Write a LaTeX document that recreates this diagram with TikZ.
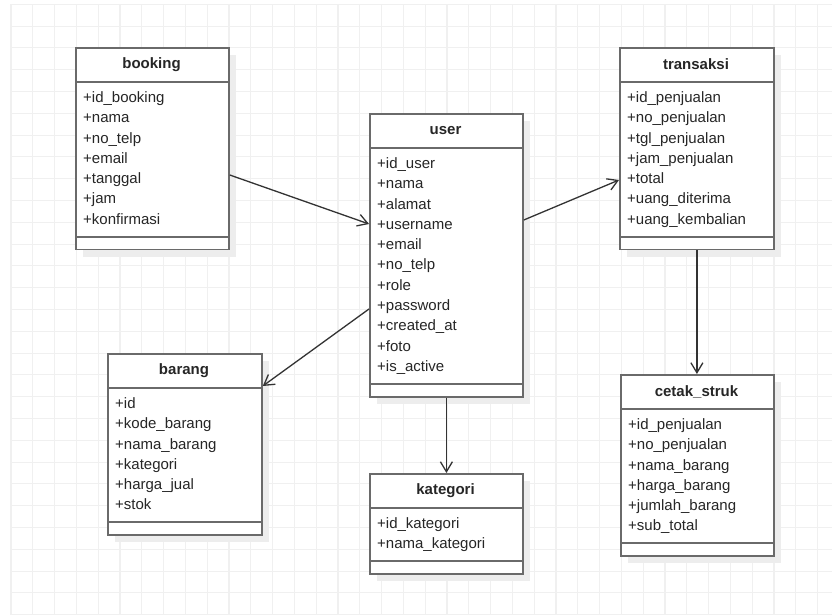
\documentclass[tikz,border=0pt]{standalone}
\usepackage{fontspec}
\setmainfont{Liberation Sans}
\usetikzlibrary{arrows.meta,calc}

\definecolor{gridc}{HTML}{F0F0F0}
\definecolor{boxline}{HTML}{6A6A6A}
\definecolor{shadowc}{HTML}{EDEDED}
\definecolor{inkc}{HTML}{262626}
\definecolor{connc}{HTML}{333333}

\tikzset{
  gridline/.style={draw=gridc, line width=1.1pt},
  classbox/.style={draw=boxline, fill=white, line width=1.8pt, inner sep=0pt},
  boxedge/.style={draw=boxline, line width=1.8pt},
  titletext/.style={font=\fontsize{15}{18}\selectfont\bfseries, text=inkc, inner sep=0pt},
  attrtext/.style={font=\fontsize{15}{18}\selectfont, text=inkc, inner sep=0pt},
  conn/.style={draw=connc, line width=1.3pt, -{Straight Barb[length=10pt,width=12pt,line width=1.3pt]}},
}

% UML class: #1 name, #2 left, #3 top, #4 width, #5 title, #6 number of attributes, #7 attributes
\newcommand\umlclass[7]{%
  \pgfmathsetmacro\clshdr{#3+35}%
  \pgfmathsetmacro\clssect{#3+35+20.3*#6+12.5}%
  \pgfmathsetmacro\clsbot{\clssect+12}%
  \pgfmathsetmacro\clsh{\clsbot-#3}%
  \fill[shadowc] (#2+8,#3+8) rectangle ++(#4,\clsh);
  \node[classbox, minimum width=#4pt, minimum height=\clsh pt, anchor=north west] (#1) at (#2,#3) {};
  \draw[boxedge] (#2,\clshdr) -- ++(#4,0);
  \draw[boxedge] (#2,\clssect) -- ++(#4,0);
  \node[titletext] (#1-title) at ({#2+#4/2},{#3+17.5}) {#5};
  \foreach \a [count=\k from 0] in {#7}
    \node[attrtext, anchor=base west] (#1-\k) at (#2+8,{\clshdr+20.4+20.3*\k}) {\a};
}

\begin{document}
\begin{tikzpicture}[x=1pt,y=-1pt]
\useasboundingbox (0,0) rectangle (832,615);
\fill[white] (0,0) rectangle (832,615);

% background grid
\begin{scope}
\clip (0,0) rectangle (832,615);
\foreach \i in {0,...,37}
  \draw[gridline] ({11+21.8*\i},4.3) -- ({11+21.8*\i},615);
\foreach \j in {0,...,28}
  \draw[gridline] (11,{4.3+21.8*\j}) -- (832,{4.3+21.8*\j});
\end{scope}

\umlclass{booking}{75}{47}{153}{booking}{7}{+id\_booking,+nama,+no\_telp,+email,+tanggal,+jam,+konfirmasi}
\umlclass{user}{369}{113}{153}{user}{11}{+id\_user,+nama,+alamat,+username,+email,+no\_telp,+role,+password,+created\_at,+foto,+is\_active}
\umlclass{transaksi}{619}{47}{154}{transaksi}{7}{+id\_penjualan,+no\_penjualan,+tgl\_penjualan,+jam\_penjualan,+total,+uang\_diterima,+uang\_kembalian}
\umlclass{barang}{107}{353}{154}{barang}{6}{+id,+kode\_barang,+nama\_barang,+kategori,+harga\_jual,+stok}
\umlclass{kategori}{369}{473}{153}{kategori}{2}{+id\_kategori,+nama\_kategori}
\umlclass{cetak}{620}{374}{153}{cetak\_struk}{6}{+id\_penjualan,+no\_penjualan,+nama\_barang,+harga\_barang,+jumlah\_barang,+sub\_total}

% associations
\draw[conn] ($(booking.north east)+(0,128)$) -- ($(user.north west)+(0,111)$);
\draw[conn] ($(user.north east)+(0,107)$) -- ($(transaksi.north west)+(0,133)$);
\draw[conn] ($(user.north west)+(0,196)$) -- ($(barang.north east)+(0,33)$);
\draw[conn] (user.south) -- (kategori.north);
\draw[conn] (transaksi.south) -- (transaksi.south |- cetak.north);
\end{tikzpicture}
\end{document}
